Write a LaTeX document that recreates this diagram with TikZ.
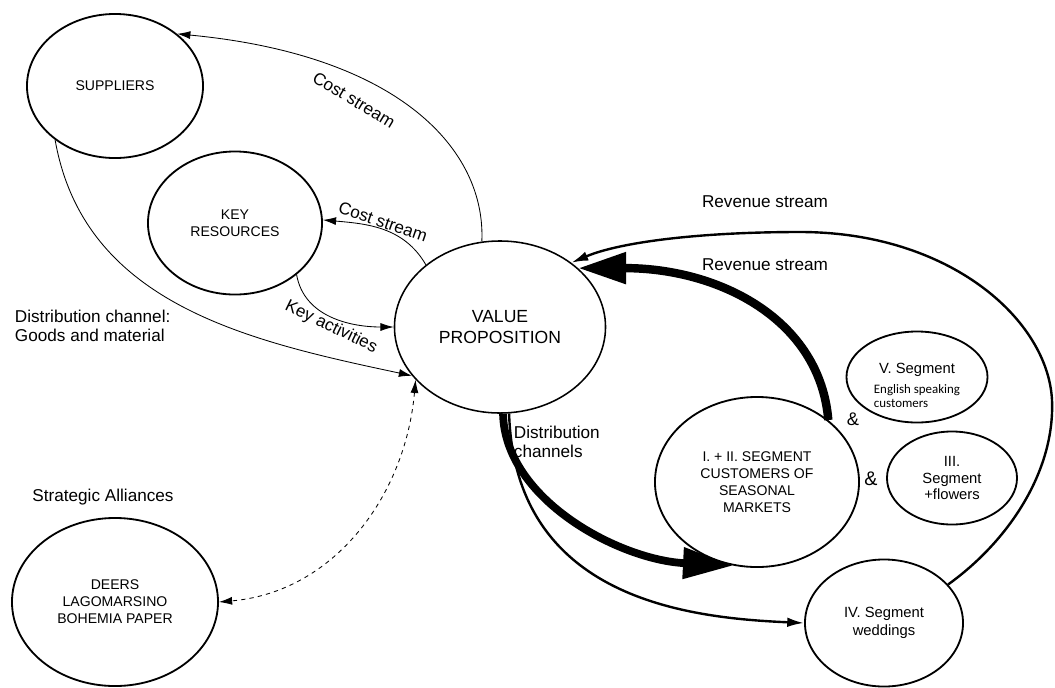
\documentclass[tikz,border=0pt]{standalone}
\usepackage{fontspec}
\setmainfont{Liberation Sans}
\newfontfamily\calfont{Carlito}
\usetikzlibrary{shapes.geometric,arrows.meta}
\begin{document}
\begin{tikzpicture}[x=0.025cm,y=0.025cm,
  ell/.style={draw,ellipse,line width=1.3pt,inner sep=0pt,align=center,font=\fontsize{10}{12}\selectfont},
  lbl/.style={font=\fontsize{12.2}{13.5}\selectfont},
  costline/.style={line width=0.6pt,-{Latex[length=3.3mm,width=2mm]}},
  revline/.style={line width=1.7pt,-{Latex[length=4.2mm,width=2.4mm]}}]
\useasboundingbox (0,0) rectangle (1055,-687);
% partners and resources
\node (sup) [ell,minimum width=4.4cm,minimum height=3.6cm] at (115,-86) {SUPPLIERS};
\node (res) [ell,minimum width=4.35cm,minimum height=3.575cm] at (235,-223) {KEY\\RESOURCES};
\node (vp) [ell,line width=1.1pt,minimum width=5.275cm,minimum height=4.3cm,font=\fontsize{12.5}{15}\selectfont] at (500,-327) {VALUE\\PROPOSITION};
\node (deers) [ell,minimum width=5.15cm,minimum height=4.2cm] at (115,-602) {DEERS\\LAGOMARSINO\\BOHEMIA PAPER};
% customer segments
\node (seg12) [ell,minimum width=5.1cm,minimum height=4.25cm] at (757,-482) {I. + II. SEGMENT\\CUSTOMERS OF\\SEASONAL\\MARKETS};
\node (seg5) [ell,minimum width=3.525cm,minimum height=2.275cm] at (917,-377) {};
\node (seg5txt) [align=center,inner sep=0pt] at (917,-388) {{\fontsize{10.5}{12}\selectfont V. Segment}\\[3pt]
  {\calfont\fontsize{9.2}{10.6}\selectfont\begin{tabular}{@{}l@{}}English speaking\\customers\end{tabular}}};
\node (seg3) [ell,minimum width=3.25cm,minimum height=2.325cm,font=\fontsize{10.5}{11.8}\selectfont] at (952,-478) {III.\\Segment\\+flowers};
\node (seg4) [ell,minimum width=3.95cm,minimum height=3.175cm,font=\fontsize{10.5}{13}\selectfont] at (884,-623) {IV. Segment\\weddings};
\node (and1) [font=\fontsize{13}{14}\selectfont] at (853,-419) {\&};
\node (and2) [font=\fontsize{14}{15}\selectfont] at (871,-479) {\&};
% cost side
\draw[costline] (vp.102) .. controls (486,-150) and (400,-55) .. (sup.40);
\draw[costline] (vp.140) to[out=120,in=-5] (res.2);
\draw[costline] (res.-40) to[out=-80,in=180] (vp.180);
\draw[costline] (sup.222) to[out=-80,in=168] (vp.209);
\draw[dashed,line width=0.6pt,{Latex[length=3.3mm,width=2mm]}-{Latex[length=3.3mm,width=2mm]}] (vp.212) to[out=-95,in=5] (deers.0);
\node (cost1) [lbl,rotate=-31] at (354,-100) {Cost stream};
\node (cost2) [lbl,rotate=-19] at (383,-222) {Cost stream};
\node (keyact) [lbl,rotate=-26] at (331,-327) {Key activities};
\node (goods) [lbl,anchor=west,align=left] at (10,-326) {Distribution channel:\\Goods and material};
\node (strat) [lbl] at (103,-497) {Strategic Alliances};
% revenue side
\draw[line width=6pt,-{Triangle[length=1.2cm,width=0.75cm]}] (seg12.41) .. controls (820,-320) and (720,-268) .. (vp.37);
\draw[line width=5.5pt,-{Triangle[length=1.25cm,width=0.75cm]}] (vp.-88) .. controls (505,-500) and (620,-560) .. (seg12.254);
\draw[revline] (vp.-84) .. controls (515,-600) and (690,-618) .. (seg4.180);
\draw[revline] (seg4.31) .. controls (1010,-540) and (1055,-470) .. (1052,-400)
  .. controls (1048,-320) and (950,-232) .. (800,-232)
  .. controls (700,-232) and (620,-242) .. (vp.42);
\node (rev1) [lbl] at (765,-202) {Revenue stream};
\node (rev2) [lbl] at (765,-265) {Revenue stream};
\node (distch) [lbl,anchor=west,align=left] at (509,-442) {Distribution\\channels};
\end{tikzpicture}
\end{document}
